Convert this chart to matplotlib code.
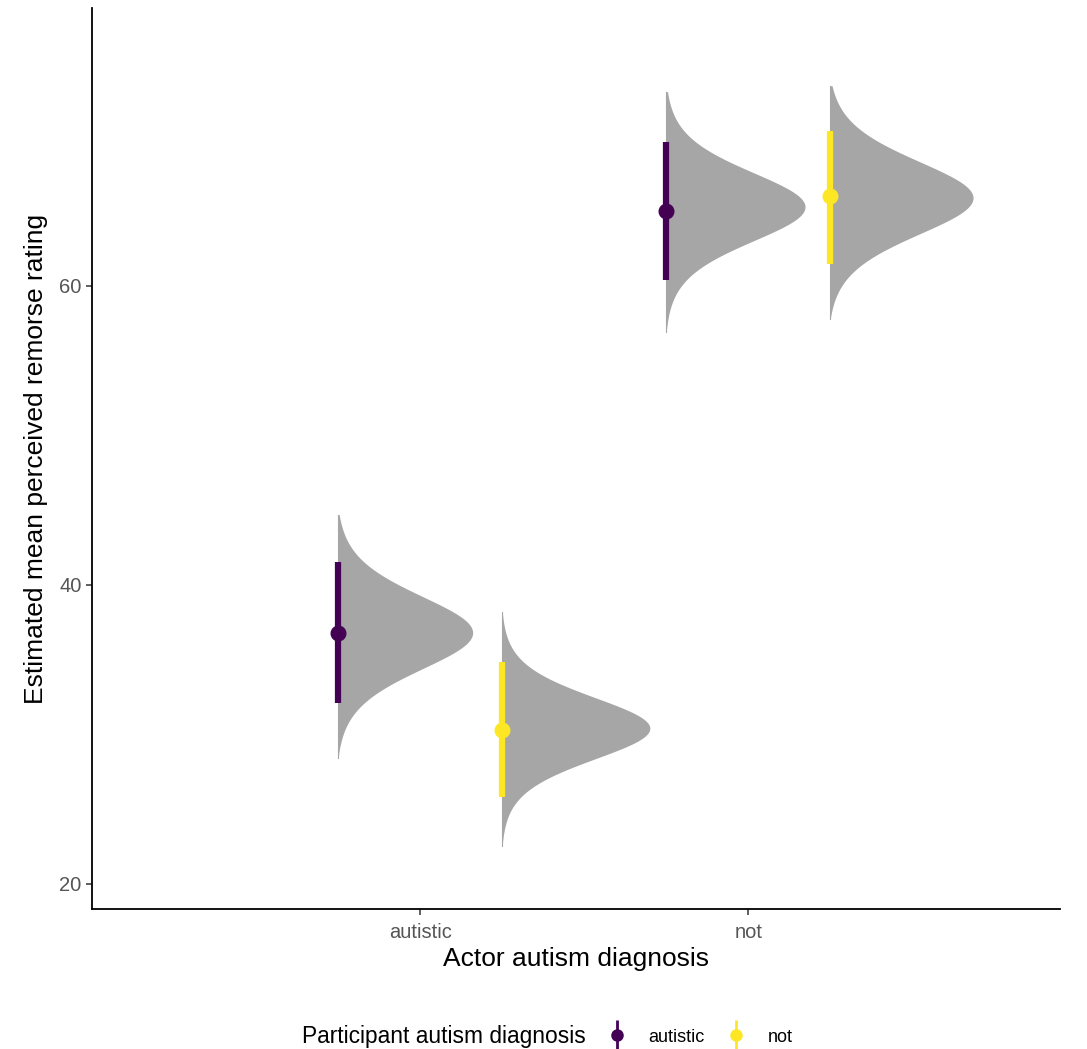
import numpy as np
import matplotlib.pyplot as plt
from matplotlib.lines import Line2D
from matplotlib.legend_handler import HandlerTuple

plt.rcParams['font.family'] = ['Liberation Sans', 'DejaVu Sans']

# actor diagnosis on x, participant diagnosis as dodge / colour
actor = ['autistic', 'not']
participant = ['autistic', 'not']
colors = ['#440154', '#FDE725']

# posterior summaries (order: actor x participant)
group_actor = ['autistic', 'autistic', 'not', 'not']
group_part = ['autistic', 'not', 'autistic', 'not']
point_est = [36.8, 30.3, 65.0, 66.0]
ci_low = [32.1, 25.8, 60.4, 61.5]
ci_high = [41.5, 34.85, 69.65, 70.4]
# density shape: mode, scale, tail range, relative peak height
dens_mode = [36.8, 30.4, 65.3, 65.9]
dens_scale = [2.6, 2.2, 2.45, 2.6]
dens_lo = [28.4, 22.5, 56.9, 57.8]
dens_hi = [44.7, 38.2, 73.0, 73.4]
dens_peak = [0.41, 0.45, 0.423, 0.435]

fig = plt.figure(figsize=(10.87, 10.49), dpi=100)
ax = fig.add_axes([92 / 1087, 1 - 909 / 1049, (1060 - 92) / 1087, (909 - 8) / 1049])

dodge = 0.25
for i in range(len(point_est)):
    xc = actor.index(group_actor[i]) + 1
    pi = participant.index(group_part[i])
    x0 = xc + (pi - 0.5) * 2 * dodge
    y = np.linspace(dens_lo[i], dens_hi[i], 400)
    z = (y - dens_mode[i]) / dens_scale[i]
    d = (1 + z ** 2 / 10) ** (-5.5)
    d = d - d.min()
    d = d / d.max() * dens_peak[i]
    ax.fill_betweenx(y, x0, x0 + d, color='#A6A6A6', lw=0, zorder=1)
    ax.plot([x0, x0], [dens_lo[i], dens_hi[i]], color='#A6A6A6', lw=0.8, zorder=1)
    ax.plot([x0, x0], [ci_low[i], ci_high[i]], color=colors[pi], lw=4.5,
            solid_capstyle='butt', zorder=2)
    ax.plot(x0, point_est[i], 'o', color=colors[pi], ms=10.5, zorder=3)

ax.set_xlim(0.0, 2.95)
ax.set_ylim(18.3, 78.6)
ax.set_xticks([1, 2])
ax.set_xticklabels(actor)
ax.set_yticks([20, 40, 60])
for s in ['top', 'right']:
    ax.spines[s].set_visible(False)
for s in ['left', 'bottom']:
    ax.spines[s].set_linewidth(1.3)
ax.tick_params(axis='both', colors='#333333', labelcolor='#555555',
               labelsize=14.5, length=4, width=1.1)
ax.tick_params(axis='x', pad=6)
ax.set_xlabel('Actor autism diagnosis', fontsize=19, labelpad=4)
ax.set_ylabel('Estimated mean perceived remorse rating', fontsize=19, labelpad=8)

# legend along the bottom
handles = []
for c in colors:
    handles.append((Line2D([], [], color=c, marker='|', ms=22, mew=2, ls='none'),
                    Line2D([], [], color=c, marker='o', ms=8, ls='none')))
fig.text(302 / 1087, 1 - 1037 / 1049, 'Participant autism diagnosis',
         fontsize=16.4, va='center', ha='left')
fig.legend(handles, participant, handler_map={tuple: HandlerTuple(ndivide=1)},
           ncol=2, frameon=False, loc='center left', fontsize=13,
           bbox_to_anchor=(603 / 1087, 1 - 1037 / 1049),
           borderpad=0, borderaxespad=0,
           handlelength=1.5, columnspacing=1.0, handletextpad=1.0)

fig.savefig('out.png', dpi=100)
